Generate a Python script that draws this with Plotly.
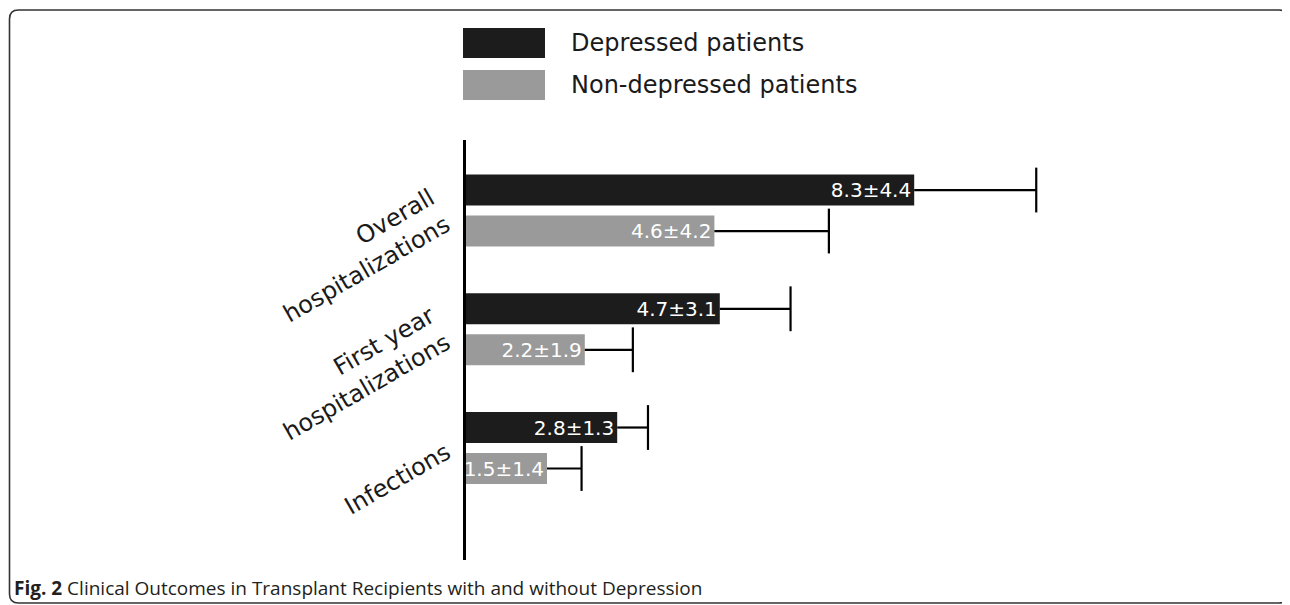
import plotly.graph_objects as go

# ---- data ----
categories = ["Overall<br>hospitalizations", "First year<br>hospitalizations", "Infections"]
series_names = ["Depressed patients", "Non-depressed patients"]
dep_mean = [8.3, 4.7, 2.8]
dep_sd = [4.4, 3.1, 1.3]
dep_err = [2.26, 1.31, 0.57]      # whisker length as drawn
non_mean = [4.6, 2.2, 1.5]
non_sd = [4.2, 1.9, 1.4]
non_err = [2.12, 0.89, 0.64]
caption_bold = "Fig. 2"
caption_text = " Clinical Outcomes in Transplant Recipients with and without Depression"

# ---- layout constants (page pixel coordinates; the page body has an 8px margin) ----
OX, OY = 8, 8
W, H = 1290 - OX, 605 - OY
L, R, T, B = 466, 1200, 140, 560
colors = ["#1c1c1c", "#9a9a9a"]
group_pos = list(range(len(categories)))
y_range = [2.943, -0.594]
unit_px = (B - T) / (y_range[0] - y_range[1])
offsets = [-20.5 / unit_px, 20.5 / unit_px]
bar_w = 31 / unit_px
label_dy = [45, 44, 31]          # label centre below group centre, px
label_right = 458


def px(x):
    return (x - L) / (R - L)


def py(y):
    return (B - y) / (B - T)


fig = go.Figure()
series = [
    (series_names[0], dep_mean, dep_sd, dep_err, colors[0], offsets[0]),
    (series_names[1], non_mean, non_sd, non_err, colors[1], offsets[1]),
]
for name, mean, sd, err, color, off in series:
    ypos = [g + off for g in group_pos]
    fig.add_trace(go.Bar(
        y=ypos, x=mean, orientation="h", name=name, width=bar_w,
        marker=dict(color=color, line=dict(width=0)),
        text=[f"{m}±{s}" for m, s in zip(mean, sd)],
        textposition="inside", insidetextanchor="end",
        textfont=dict(color="white", size=20, family="DejaVu Sans"),
        showlegend=False, cliponaxis=False,
    ))
    # whiskers (one-sided)
    xs, ys = [], []
    for m, e, y in zip(mean, err, ypos):
        xs += [m, m + e, None]
        ys += [y, y, None]
    fig.add_trace(go.Scatter(x=xs, y=ys, mode="lines", line=dict(color="black", width=2.2),
                             showlegend=False, hoverinfo="skip", cliponaxis=False))
    fig.add_trace(go.Scatter(x=[m + e for m, e in zip(mean, err)], y=ypos, mode="markers",
                             marker=dict(symbol="line-ns", size=32, line=dict(color="black", width=2.2)),
                             showlegend=False, hoverinfo="skip", cliponaxis=False))

shapes = []
annotations = []
# category labels (rotated)
for g, lab, dy in zip(group_pos, categories, label_dy):
    annotations.append(dict(xref="paper", yref="y", x=px(label_right), y=g + dy / unit_px,
                            text=lab, showarrow=False, textangle=-30, align="right",
                            xanchor="right", yanchor="middle",
                            font=dict(family="DejaVu Sans", size=24, color="#1a1a1a")))
# legend
leg_y = [43, 85]
for name, color, yc in zip(series_names, colors, leg_y):
    shapes.append(dict(type="rect", xref="paper", yref="paper",
                       x0=px(463), x1=px(545), y0=py(yc - 15), y1=py(yc + 15),
                       fillcolor=color, line=dict(width=0)))
    annotations.append(dict(xref="paper", yref="paper", x=px(569), y=py(yc), text=name,
                            showarrow=False, xanchor="left", yanchor="middle",
                            font=dict(family="DejaVu Sans", size=24, color="#1a1a1a")))
# caption
annotations.append(dict(xref="paper", yref="paper", x=px(12), y=py(587.5),
                        text=f"<b>{caption_bold}</b>{caption_text}", showarrow=False,
                        xanchor="left", yanchor="middle",
                        font=dict(family="Open Sans", size=19, color="#231f20")))
# rounded frame
x0, x1, y0, y1, r = px(9.5), px(1288), py(10), py(603), 9
rx = r / (R - L)
ry = r / (B - T)
path = (f"M {x0},{y0 - ry} L {x0},{y1 + ry} Q {x0},{y1} {x0 + rx},{y1} "
        f"L {x1 - rx},{y1} Q {x1},{y1} {x1},{y1 + ry} L {x1},{y0 - ry} "
        f"Q {x1},{y0} {x1 - rx},{y0} L {x0 + rx},{y0} Q {x0},{y0} {x0},{y0 - ry} Z")
shapes.append(dict(type="path", xref="paper", yref="paper", path=path,
                   line=dict(color="#333333", width=1.6), fillcolor="rgba(0,0,0,0)"))

fig.update_layout(
    width=W, height=H, margin=dict(l=L - OX, r=W - (R - OX), t=T - OY, b=H - (B - OY)),
    plot_bgcolor="white", paper_bgcolor="white",
    barmode="overlay", shapes=shapes, annotations=annotations,
    uniformtext=dict(minsize=20, mode="show"),
    xaxis=dict(range=[0, (R - L) / 54.0], visible=False, fixedrange=True),
    yaxis=dict(range=y_range, showticklabels=False, showline=True, linecolor="black",
               linewidth=2.5, showgrid=False, zeroline=False, ticks=""),
)

fig.write_html("out.html")
